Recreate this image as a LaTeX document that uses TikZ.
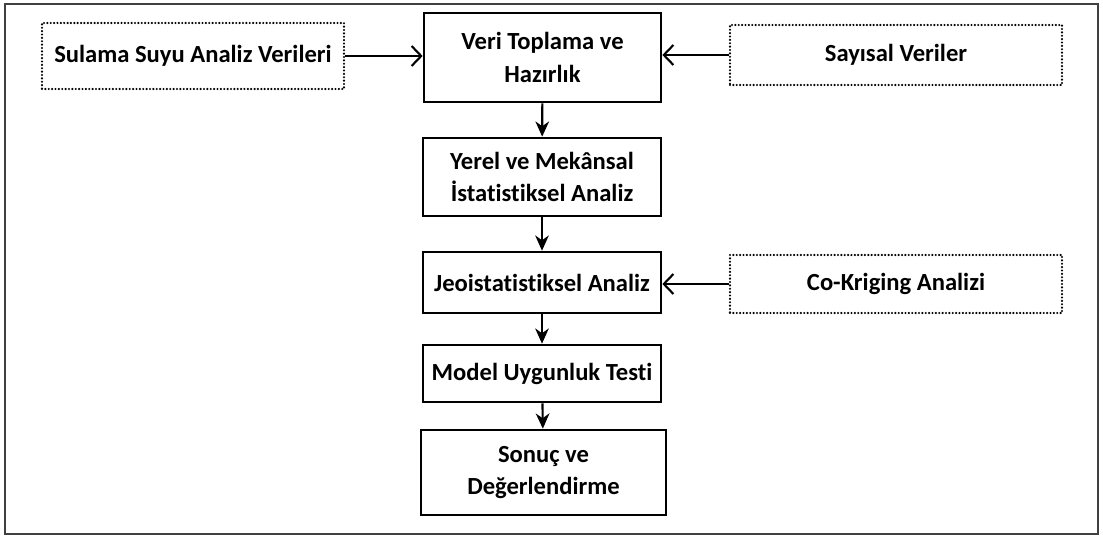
\documentclass[tikz,border=0pt]{standalone}
\usepackage{fontspec}
\setmainfont{Carlito}[Ligatures=NoCommon]
\usepackage{tikz}
\usetikzlibrary{positioning,arrows.meta,calc}
\definecolor{FrameGray}{HTML}{404040}

\begin{document}
\begin{tikzpicture}[
  stage/.style={draw=black, line width=1.9pt, align=center, font=\fontsize{17.5}{23.4}\selectfont\bfseries},
  src/.style={draw=black, line width=1.7pt, dash pattern=on 0pt off 2.4pt, line cap=round, align=center, font=\fontsize{17.5}{23.4}\selectfont\bfseries},
  flow/.style={-{Stealth[length=3.8mm, width=3.4mm, inset=1.2mm]}, line width=1.5pt},
  feed/.style={-{Straight Barb[length=2.4mm, width=5mm]}, line width=1.5pt}]
\useasboundingbox (0,0) rectangle (27.575,-13.4);
\draw[FrameGray, line width=1.2pt] (0.125,-0.1) rectangle (27.45,-13.35);
\node[stage, minimum width=5.925cm, minimum height=2.225cm] (veri)  at (13.5625,-1.4375) {Veri Toplama ve\\Hazırlık};
\node[stage, minimum width=5.95cm,  minimum height=1.95cm]  (yerel) at (13.55,-4.425)    {Yerel ve Mekânsal\\İstatistiksel Analiz};
\node[stage, minimum width=5.95cm,  minimum height=1.525cm] (jeo)   at (13.55,-7.0625)   {Jeoistatistiksel Analiz};
\node[stage, minimum width=5.95cm,  minimum height=1.425cm] (model) at (13.55,-9.3375)   {Model Uygunluk Testi};
\node[stage, minimum width=6.125cm, minimum height=2.125cm] (sonuc) at (13.5875,-11.8125) {Sonuç ve\\Değerlendirme};
\node[src, minimum width=7.55cm, minimum height=1.65cm] (sulama)  at (4.825,-1.4)  {Sulama Suyu Analiz Verileri};
\node[src, minimum width=8.3cm,  minimum height=1.5cm]  (sayisal) at (22.4,-1.375) {Sayısal Veriler};
\node[src, minimum width=8.3cm,  minimum height=1.45cm] (cokrig)  at (22.4,-7.1)   {Co-Kriging Analizi};
\draw[flow] (veri)  -- (yerel);
\draw[flow] (yerel) -- (jeo);
\draw[flow] (jeo)   -- (model);
\draw[flow] (model) -- (sonuc);
\draw[feed] (sulama.east)  -- (sulama.east -| veri.west);
\draw[feed] (sayisal.west) -- (sayisal.west -| veri.east);
\draw[feed] (cokrig.west)  -- (cokrig.west -| jeo.east);
\end{tikzpicture}
\end{document}
